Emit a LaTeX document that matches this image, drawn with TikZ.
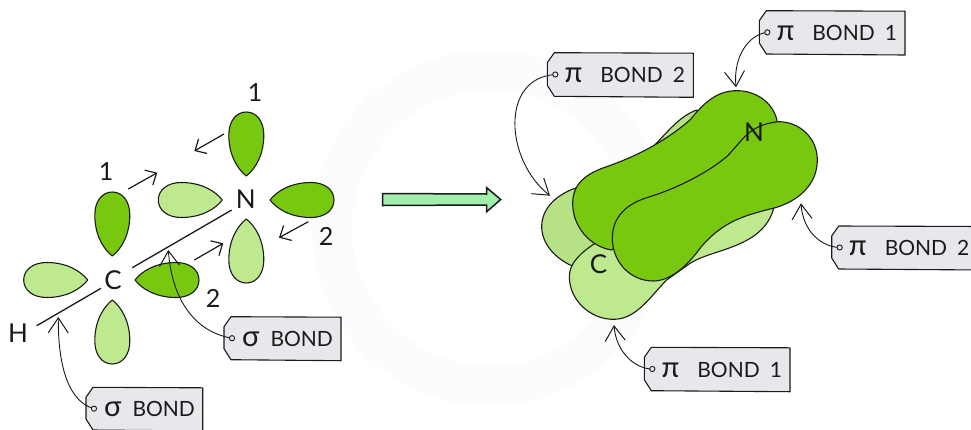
\documentclass[tikz,border=0pt]{standalone}
\usepackage{fontspec}
\setmainfont{Lato}
\usetikzlibrary{arrows.meta}
\definecolor{lobedark}{HTML}{78C80F}
\definecolor{lobelight}{HTML}{BEE98F}
\definecolor{lobeback}{HTML}{B6E285}
\definecolor{tagfill}{HTML}{E8E7EB}
\definecolor{bigarrow}{HTML}{A2EEAC}
\definecolor{inkc}{HTML}{1A1A1A}
\definecolor{wm}{HTML}{FAFCFE}
\tikzset{
  lobeline/.style={draw=inkc,line width=1.1pt,line join=round},
  bondline/.style={draw=inkc,line width=1.3pt},
  elemlabel/.style={font=\fontsize{26}{26}\selectfont,text=inkc,inner sep=0pt},
  numlabel/.style={font=\fontsize{25}{25}\selectfont,text=inkc,inner sep=0pt},
  taglabel/.style={font=\fontsize{21}{21}\selectfont,text=inkc,inner sep=0pt,anchor=west},
  shortarrow/.style={draw=inkc,line width=1.2pt,-{Straight Barb[length=9pt,width=17pt,line width=1.2pt]}},
  callout/.style={draw=inkc,line width=0.9pt,-{Straight Barb[length=15pt,width=20pt,line width=1pt]}},
  tagshape/.style={draw=inkc,line width=1.1pt,fill=tagfill,line join=round},
  holedot/.style={draw=inkc,line width=0.9pt,fill=tagfill},
}
\newcommand{\bigsym}[1]{{\fontsize{29}{21}\selectfont #1}}
% tip x, tip y, angle, colour
\newcommand{\lobeat}[4]{%
  \path[lobeline,fill=#4,shift={(#1,#2)},rotate=#3]
    (0,0) .. controls (7,-9) and (21,-17.5) .. (41,-17.5)
    .. controls (55,-17.5) and (64,-10) .. (64,0)
    .. controls (64,10) and (55,17.5) .. (41,17.5)
    .. controls (21,17.5) and (7,9) .. (0,0) -- cycle;}
% name, left, top, right, bottom, text, text offset
\newcommand{\tagat}[7]{%
  \path[tagshape] ({#2+7},#3) -- (#4,{#3+0.5}) -- (#4,#5) -- ({#2+7},{#5-1}) -- (#2,{#5-12}) -- (#2,{#3+10}) -- cycle;
  \node[taglabel] (#1) at ({#2+#7},{(#3+#5)/2}) {#6};
  \coordinate (#1-hole) at ({#2+8},{(#3+#5)/2-0.5});}
\newcommand{\holeat}[1]{\path[holedot] (#1-hole) circle (2.6);}
\begin{document}
\begin{tikzpicture}[x=1pt,y=-1pt]
\useasboundingbox (0,0) rectangle (971,429);
\clip (0,0) rectangle (971,429);
% faint watermark
\path[fill=wm,even odd rule] (490,228) circle (178) (490,228) circle (138);

% left: orbitals
\lobeat{112.3}{256}{90}{lobedark}
\lobeat{87.7}{280}{180}{lobelight}
\lobeat{112.3}{300}{-90}{lobelight}
\lobeat{135}{280}{0}{lobedark}
\lobeat{246.3}{176}{90}{lobedark}
\lobeat{222.3}{200}{180}{lobelight}
\lobeat{270}{200}{0}{lobedark}
\lobeat{246.3}{219}{-90}{lobelight}

\coordinate (bondHa) at (101,288.3);
\coordinate (bondHb) at (36.7,325.7);
\coordinate (bondNa) at (132.3,267.7);
\coordinate (bondNb) at (231.7,210);
\path[bondline] (bondHa) -- (bondHb);
\path[bondline] (bondNa) -- (bondNb);

\node[elemlabel] (lblC) at (113,280) {C};
\node[elemlabel] (lblN) at (245.7,199) {N};
\node[elemlabel] (lblH) at (18,333.5) {H};
\node[numlabel] (numA) at (106,172) {1};
\node[numlabel] (numB) at (255,93) {1};
\node[numlabel] (numC) at (326,236) {2};
\node[numlabel] (numD) at (213,298.5) {2};

\coordinate (a1) at (128.3,189); \coordinate (a1e) at (157.3,172.7);
\coordinate (a2) at (224,134); \coordinate (a2e) at (194.3,151);
\coordinate (a3) at (308.3,221.7); \coordinate (a3e) at (279,237.7);
\coordinate (a4) at (194.3,260); \coordinate (a4e) at (223.3,243.3);
\path[shortarrow] (a1) -- (a1e);
\path[shortarrow] (a2) -- (a2e);
\path[shortarrow] (a3) -- (a3e);
\path[shortarrow] (a4) -- (a4e);

% big arrow
\path[draw=inkc,line width=1.5pt,fill=bigarrow,line join=miter]
  (382.7,193.5) -- (486.7,194) -- (486.7,187.7) -- (500.7,199.5) -- (486.7,211.7) -- (486.7,205) -- (382.7,205.5) -- cycle;

% right: pi orbitals, written in 3x crop coordinates
\begin{scope}[shift={(500,0)},x=0.33333pt,y=-0.33333pt]
\path[lobeline,fill=lobeback]
  (590,330) .. controls (535,350) and (500,400) .. (445,455) -- (240,560)
  .. controls (170,580) and (125,625) .. (125,680)
  .. controls (125,730) and (165,775) .. (215,797) -- (420,650) -- (650,420) -- cycle;
\path[lobeline,fill=lobelight]
  (285,730) .. controls (240,760) and (208,790) .. (208,830)
  .. controls (208,900) and (270,958) .. (340,958)
  .. controls (410,958) and (450,890) .. (500,840) -- (570,790)
  .. controls (640,745) and (790,745) .. (822,622) -- (500,600) -- cycle;
\path[lobeline,fill=lobedark]
  (710,272) .. controls (775,272) and (825,315) .. (832,368) -- (335,750)
  .. controls (270,740) and (218,680) .. (218,610)
  .. controls (218,550) and (260,520) .. (320,500)
  .. controls (420,465) and (500,420) .. (570,360)
  .. controls (610,310) and (650,272) .. (710,272) -- cycle;
\path[lobeline,fill=lobedark]
  (835,365) .. controls (900,365) and (952,415) .. (952,480)
  .. controls (952,550) and (900,600) .. (830,622)
  .. controls (740,645) and (670,660) .. (600,745)
  .. controls (560,800) and (510,843) .. (460,843)
  .. controls (390,843) and (337,785) .. (337,715)
  .. controls (337,650) and (380,610) .. (450,590)
  .. controls (530,565) and (620,520) .. (680,470)
  .. controls (730,420) and (745,375) .. (835,365) -- cycle;
\end{scope}
\node[elemlabel] (lblC2) at (598.5,264) {C};
\node[elemlabel] (lblN2) at (754,132) {N};

% tags
\tagat{tagSa}{86}{387.3}{202.7}{431}{\bigsym{σ}\hspace{11pt}BOND}{18}
\tagat{tagSb}{224}{316.7}{341}{360.7}{\bigsym{σ}\hspace{11pt}BOND}{18}
\tagat{tagPa}{759.3}{10.7}{905}{55}{\bigsym{π}\hspace{18pt}BOND\hspace{10pt}1}{17}
\tagat{tagPb}{547.3}{52.7}{693.3}{97.3}{\bigsym{π}\hspace{18pt}BOND\hspace{10pt}2}{17}
\tagat{tagPc}{831.7}{226}{985}{270}{\bigsym{π}\hspace{18pt}BOND\hspace{10pt}2}{17}
\tagat{tagPd}{644.3}{347.3}{790}{391.7}{\bigsym{π}\hspace{18pt}BOND\hspace{10pt}1}{17}

\coordinate (tSa) at (58.3,317);
\coordinate (tSb) at (168.3,250);
\coordinate (tPa) at (736,87.3);
\coordinate (tPb) at (550,195.7);
\coordinate (tPc) at (801,203.3);
\coordinate (tPd) at (614,325);

\path[callout] (tagSa-hole) .. controls (70,402) and (58,370) .. (tSa);
\path[callout] (tagSb-hole) .. controls (195,332) and (172,300) .. (tSb);
\path[callout] (tagPa-hole) .. controls (750,34) and (733,55) .. (tPa);
\path[callout] (tagPb-hole) .. controls (500,78) and (505,160) .. (tPb);
\path[callout] (tagPc-hole) .. controls (822,247) and (803,232) .. (tPc);
\path[callout] (tagPd-hole) .. controls (635,369) and (616,352) .. (tPd);
\holeat{tagSa}\holeat{tagSb}\holeat{tagPa}\holeat{tagPb}\holeat{tagPc}\holeat{tagPd}
\end{tikzpicture}
\end{document}
